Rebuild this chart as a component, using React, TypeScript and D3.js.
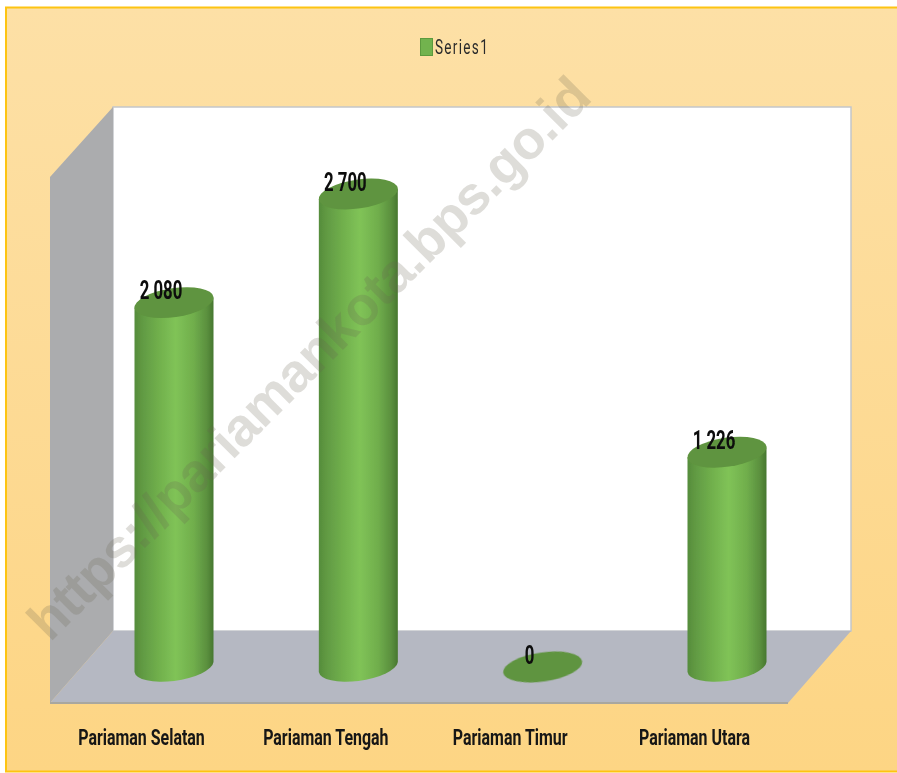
import React from "react";
import * as d3 from "d3";

const categories = ["Pariaman Selatan", "Pariaman Tengah", "Pariaman Timur", "Pariaman Utara"];
const values = [2080, 2700, 0, 1226];
const valueLabels = ["2 080", "2 700", "0", "1 226"];
const seriesName = "Series1";
const watermark = "https://pariamankota.bps.go.id";

const W = 897, H = 773;
const x = d3.scalePoint<string>().domain(categories).range([174, 727]);
const y = d3.scaleLinear().domain([0, 2700]).range([667, 194]);
const RX = 39.9, RY = 14.5, ROT = -8.2;
const EDGE = 5; // vertical offset of the ellipse's left/right extremes
const HW = 39.5;

const condensed = "Roboto,'Noto Sans',sans-serif";

export default function App() {
  React.useEffect(() => { document.body.style.margin = "0"; }, []);
  const polyline = d3.line();
  const basePx = y(0);
  return (
    <svg width={W} height={H} style={{ position: "absolute", left: 0, top: 0, display: "block" }}>
      <defs>
        <linearGradient id="bg" x1="0" y1="0" x2="0" y2="1">
          <stop offset="0" stopColor="#fde0a6" />
          <stop offset="1" stopColor="#fdd584" />
        </linearGradient>
        <linearGradient id="cyl" x1="0" y1="0" x2="1" y2="0">
          <stop offset="0" stopColor="#558c3b" />
          <stop offset="0.1" stopColor="#619a43" />
          <stop offset="0.3" stopColor="#70af4c" />
          <stop offset="0.52" stopColor="#80c357" />
          <stop offset="0.75" stopColor="#70ae4c" />
          <stop offset="0.92" stopColor="#5a8f3e" />
          <stop offset="1" stopColor="#47772f" />
        </linearGradient>
        <filter id="soft" x="-10%" y="-20%" width="120%" height="140%">
          <feGaussianBlur stdDeviation="0.6" />
        </filter>
        <filter id="softer" x="-5%" y="-5%" width="110%" height="110%">
          <feGaussianBlur stdDeviation="0.5" />
        </filter>
      </defs>
      <rect x={0} y={0} width={W} height={H} fill="#fff" />
      <rect x={6} y={7.5} width={W} height={764} fill="url(#bg)" stroke="#fdc412" strokeWidth={2} />

      <g filter="url(#softer)">
        <polygon points="113,107 851,107 851,631 113,631" fill="#fff" stroke="#c4c6ca" strokeWidth={1.5} />
        <polygon points="50,177 113,107 113,631 50,703" fill="#abacae" />
        <path d={polyline([[113, 631], [851, 631], [788, 703], [50, 703]])! + "Z"} fill="#b5b8c2" />
        <rect x={50} y={702} width={738} height={2} fill="#a9a79f" />
      </g>

      <g>
        <rect x={420.5} y={38.5} width={12} height={17} fill="#72b34e" stroke="#5c9a3e" />
        <text transform="translate(435,54) scale(0.68,1)" fontFamily={condensed} fontSize={20} letterSpacing={1.9} fill="#2c2c2c" filter="url(#soft)">{seriesName}</text>
      </g>

      <g filter="url(#softer)">
        {categories.map((c, i) => {
          const cx = x(c)!;
          const top = y(values[i]);
          const body = values[i] > 0
            ? `M${cx - HW},${top + EDGE}L${cx - HW},${basePx + EDGE}A${RX},${RY} ${ROT} 0 0 ${cx + HW},${basePx - EDGE}L${cx + HW},${top - EDGE}Z`
            : "";
          return (
            <g key={c}>
              {body && <path d={body} fill="url(#cyl)" />}
              <ellipse cx={cx} cy={top} rx={RX} ry={RY} transform={`rotate(${ROT} ${cx} ${top})`} fill="#5f943f" />
            </g>
          );
        })}
      </g>

      <text transform="translate(50,643) rotate(-45)" fontFamily="'Liberation Sans',sans-serif" fontWeight="bold" fontSize={54}
        fill="#6b6254" fillOpacity={0.22} textLength={769} lengthAdjust="spacing">{watermark}</text>

      {categories.map((c, i) => (
        <text key={c} transform={`translate(${x(c)! - 13},${y(values[i]) - 3.5}) scale(0.67,1)`}
          textAnchor="middle" fontFamily={condensed} fontWeight="bold" fontSize={25} fill="#0a0a0a" filter="url(#soft)">
          {valueLabels[i]}
        </text>
      ))}
      {categories.map((c) => (
        <text key={c} transform={`translate(${x(c)! - 32.5},745) scale(0.725,1)`} textAnchor="middle" fontFamily={condensed} fontWeight="bold" fontSize={22} fill="#141414" filter="url(#soft)">
          {c}
        </text>
      ))}
    </svg>
  );
}
